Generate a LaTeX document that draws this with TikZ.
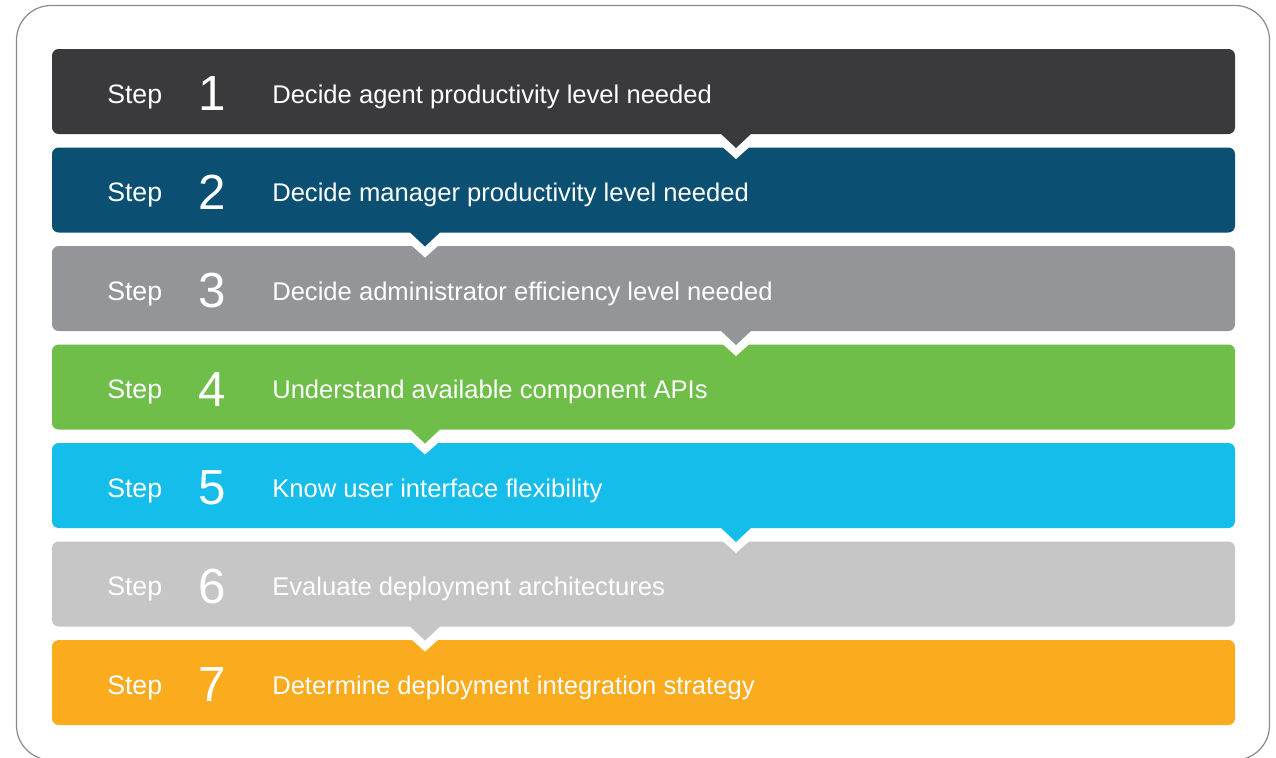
\documentclass[tikz,border=0pt]{standalone}
\usepackage{fontspec}
\setmainfont{Liberation Sans}
\definecolor{c1}{HTML}{3A3A3C}
\definecolor{c2}{HTML}{0B5073}
\definecolor{c3}{HTML}{939598}
\definecolor{c4}{HTML}{6FBE4A}
\definecolor{c5}{HTML}{14BDEA}
\definecolor{c6}{HTML}{C6C6C7}
\definecolor{c7}{HTML}{FBAB1E}
\definecolor{framegray}{HTML}{8A8A8A}
\tikzset{
  bar/.style={rounded corners=5},
  steplabel/.style={anchor=base west, inner sep=0pt, text=white, font=\fontsize{20pt}{22pt}\selectfont},
  stepnum/.style={anchor=base, inner sep=0pt, text=white, font=\fontsize{37pt}{40pt}\selectfont},
  steptext/.style={anchor=base west, inner sep=0pt, text=white, font=\fontsize{19.2pt}{21pt}\selectfont},
}
\begin{document}
\begin{tikzpicture}[x=0.75pt,y=-0.75pt]
\useasboundingbox (0,0) rectangle (1276,757);
\clip (0,0) rectangle (1276,757);
\fill[white] (0,0) rectangle (1276,757);
% outer frame
\draw[framegray, line width=0.9pt, rounded corners=26] (16.5,5.5) rectangle (1269.5,760);
% bars, drawn from the bottom up so each pointer sits over the next bar
\foreach \i/\col/\nx/\txt in {
  7/c7/0/Determine deployment integration strategy,
  6/c6/425/Evaluate deployment architectures,
  5/c5/736/Know user interface flexibility,
  4/c4/425/Understand available component APIs,
  3/c3/736/Decide administrator efficiency level needed,
  2/c2/425/Decide manager productivity level needed,
  1/c1/736/Decide agent productivity level needed}{
  \pgfmathsetmacro{\top}{49+98.5*(\i-1)}
  \pgfmathsetmacro{\bot}{\top+85}
  \pgfmathsetmacro{\mid}{\top+42.5}
  \ifnum\i<7
    % white cut in the bar below
    \fill[white] (\nx-28.6,\bot-0.5) -- (\nx+28.6,\bot-0.5) -- (\nx,\bot+25) -- cycle;
  \fi
  \fill[\col, bar] (52,\top) rectangle (1235,\bot);
  \ifnum\i<7
    \fill[\col] (\nx-16,\bot-1) -- (\nx+16,\bot-1) -- (\nx,\bot+14) -- cycle;
  \fi
  \node[steplabel] (step\i) at (107,\mid+11.5) {Step};
  \node[stepnum] (num\i) at (212,\mid+19) {\i};
  \node[steptext] (desc\i) at (272,\mid+11.5) {\txt};
}
\end{tikzpicture}
\end{document}
